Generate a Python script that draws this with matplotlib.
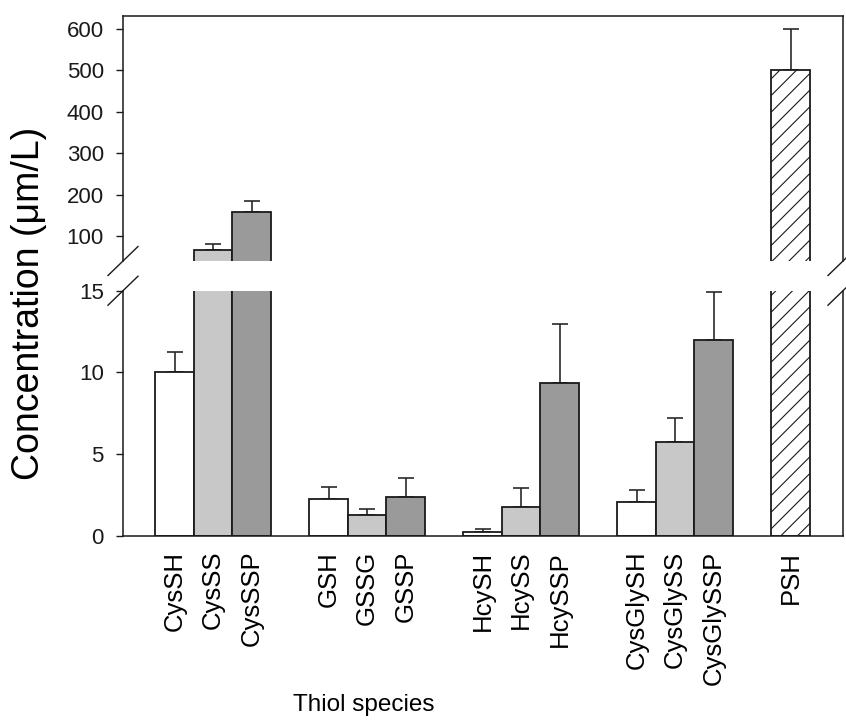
import numpy as np
import matplotlib
matplotlib.use("Agg")
import matplotlib.pyplot as plt

plt.rcParams['font.family'] = ['Liberation Sans', 'DejaVu Sans']
plt.rcParams['hatch.linewidth'] = 0.8

# data (umol/L)
species = ["CysSH", "CysSS", "CysSSP",
           "GSH", "GSSG", "GSSP",
           "HcySH", "HcySS", "HcySSP",
           "CysGlySH", "CysGlySS", "CysGlySSP",
           "PSH"]
conc = [10.0, 66, 158,
        2.22, 1.24, 2.34,
        0.23, 1.73, 9.34,
        2.06, 5.7, 11.98,
        500]
err = [1.26, 14.5, 26,
       0.78, 0.41, 1.16,
       0.15, 1.17, 3.62,
       0.71, 1.49, 2.96,
       100]
xpos = [0, 1, 2, 4, 5, 6, 8, 9, 10, 12, 13, 14, 16]

c_sh, c_ss, c_ssp = "white", "#c8c8c8", "#9a9a9a"
colors = [c_sh, c_ss, c_ssp] * 4 + ["white"]
hatches = [""] * 12 + ["//"]

W, H = 846, 720
fig = plt.figure(figsize=(W / 100, H / 100), dpi=100)

left, right = 123, 843
def box(top_px, bot_px):
    return [left / W, 1 - bot_px / H, (right - left) / W, (bot_px - top_px) / H]

ax_top = fig.add_axes(box(15.7, 261))
ax_bot = fig.add_axes(box(290.7, 535.5))

edge = "#1a1a1a"
for ax in (ax_top, ax_bot):
    bars = ax.bar(xpos, conc, width=1.0, color=colors, edgecolor=edge,
                  linewidth=1.3, zorder=2)
    for b, h in zip(bars, hatches):
        b.set_hatch(h)
    ax.errorbar(xpos, conc, yerr=[np.zeros(len(err)), err], fmt="none",
                ecolor="#2a2a2a", elinewidth=1.2, capsize=5.5, capthick=1.2,
                zorder=1)
    ax.set_xlim(-1.34, 17.36)
    for s in ax.spines.values():
        s.set_linewidth(1.1)
        s.set_color(edge)
    ax.tick_params(axis="y", direction="out", length=4.8, width=1.0,
                   labelsize=16, pad=9, colors=edge)

ax_top.set_ylim(40, 632)
ax_top.set_yticks([100, 200, 300, 400, 500, 600])
ax_top.spines["bottom"].set_visible(False)
ax_top.set_xticks([])

ax_bot.set_ylim(0, 15)
ax_bot.set_yticks([0, 5, 10, 15])
ax_bot.spines["top"].set_visible(False)
ax_bot.set_xticks(xpos)
ax_bot.set_xticklabels(species, rotation=90, fontsize=18.5)
ax_bot.tick_params(axis="x", length=0, pad=11)

# break marks on both sides
dx = 15 / (right - left)
for ax, hpx in ((ax_top, 245.3), (ax_bot, 244.8)):
    y0 = 0 if ax is ax_top else 1
    dy = 14.5 / hpx
    for x0 in (0, 1):
        ax.plot([x0 - dx, x0 + dx], [y0 - dy, y0 + dy], transform=ax.transAxes,
                color=edge, lw=1.0, clip_on=False)

ax_bot.set_xlabel("Thiol species", fontsize=17.5, va="center")
ax_bot.xaxis.set_label_coords((364 - left) / (right - left), -(705 - 535.5) / 244.8)

fig.text(29 / W, 1 - 303 / H, "Concentration (\u03bcm/L)", rotation=90,
         ha="center", va="center", fontsize=27)

fig.savefig("out.png", dpi=100)
